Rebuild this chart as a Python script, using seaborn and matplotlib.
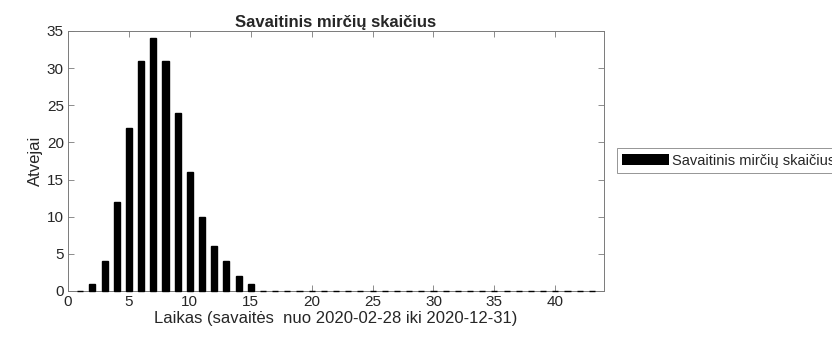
import matplotlib
matplotlib.use("Agg")
import matplotlib.pyplot as plt
import seaborn as sns
import pandas as pd

# Weekly death counts, week 1 .. 43
weeks = list(range(1, 44))
deaths = [0, 1, 4, 12, 22, 31, 34, 31, 24, 16, 10, 6, 4, 2, 1] + [0] * 28

title = "Savaitinis mirčių skaičius"
xlabel = "Laikas (savaitės  nuo 2020-02-28 iki 2020-12-31)"
ylabel = "Atvejai"
xticks = [0, 5, 10, 15, 20, 25, 30, 35, 40]
yticks = [0, 5, 10, 15, 20, 25, 30, 35]

df = pd.DataFrame({"week": weeks, "deaths": deaths})

sns.set_theme(style="white")
plt.rcParams["font.family"] = ["Liberation Sans", "DejaVu Sans"]

fig = plt.figure(figsize=(8.32, 3.41), dpi=100)
ax = fig.add_axes([68 / 832, 1 - 291 / 341, (604 - 68) / 832, (291 - 31) / 341])

sns.barplot(data=df, x="week", y="deaths", native_scale=True, width=0.5,
            color="black", edgecolor="black", linewidth=1.0, saturation=1,
            label=title, ax=ax)
# keep the flat (zero) bars visible over the baseline
for p in ax.patches:
    p.set_zorder(3)
    p.set_clip_on(False)

ax.set_xlim(0, 44)
ax.set_ylim(0, 35)
ax.set_xticks(xticks)
ax.set_yticks(yticks)
ax.tick_params(direction="in", length=4, width=0.6, color="#7a7a7a",
               labelcolor="#262626", labelsize=11, top=True, right=True,
               bottom=True, left=True, pad=3)
for s in ax.spines.values():
    s.set_color("#7a7a7a")
    s.set_linewidth(0.7)
ax.set_title(title, fontsize=12, fontweight="bold", pad=3)
ax.set_xlabel(xlabel, fontsize=12, labelpad=1, color="#262626")
ax.set_ylabel(ylabel, fontsize=12, labelpad=3, color="#262626")

leg = ax.legend(loc="center left", bbox_to_anchor=(617 / 832, 1 - 160.5 / 341),
                bbox_transform=fig.transFigure, frameon=True, fancybox=False,
                fontsize=10.5, handlelength=3.2, handleheight=0.75,
                borderpad=0.35, borderaxespad=0, handletextpad=0.25)
leg.get_frame().set_edgecolor("#7a7a7a")
leg.get_frame().set_linewidth(0.7)
for h in leg.legend_handles:
    h.set_linewidth(0)

fig.savefig("out.png", dpi=100)
